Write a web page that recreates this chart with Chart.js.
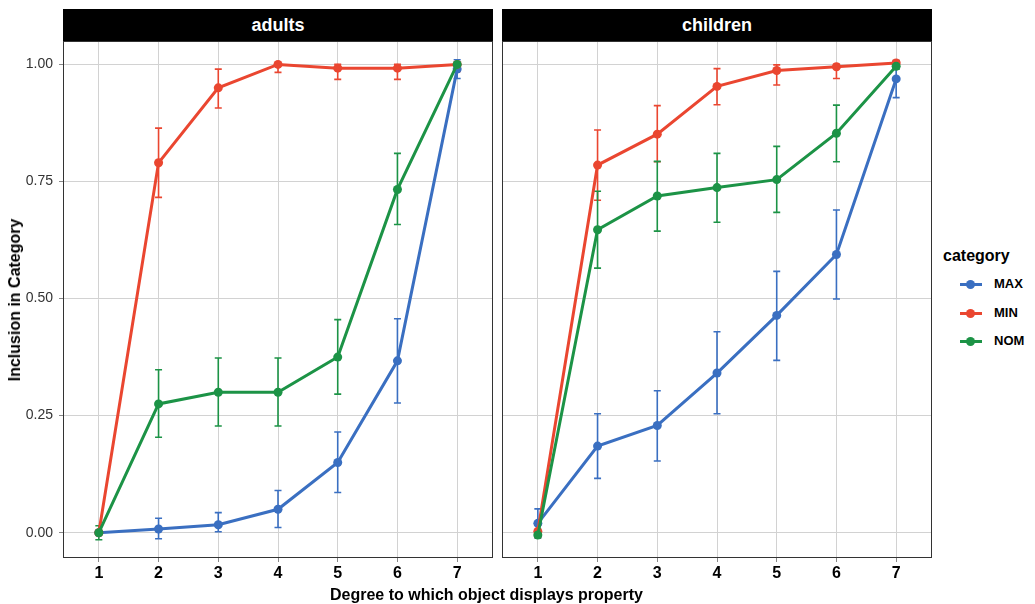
<!DOCTYPE html>
<html>
<head>
<meta charset="utf-8">
<script src="https://cdn.jsdelivr.net/npm/chart.js@4.4.0/dist/chart.umd.min.js"></script>
<style>
  body { margin: 0; background: #fff; font-family: "Liberation Sans", Arial, sans-serif; }
  #wrap { position: relative; width: 1035px; height: 604px; overflow: hidden; }
  canvas { position: absolute; }
  .strip { position: absolute; top: 9px; height: 32px; background: #000; color: #fff;
           font-weight: bold; font-size: 18px; text-align: center; line-height: 32px; }
  .title { position: absolute; font-weight: bold; font-size: 16px; color: #000; white-space: nowrap; }
  .leg { position: absolute; font-weight: bold; font-size: 13px; color: #000; }
  .sw { position: absolute; width: 22px; height: 3px; }
  .sw i { position: absolute; left: 6px; top: -3px; width: 9px; height: 9px; border-radius: 50%; }
</style>
</head>
<body>
<div id="wrap">
  <div class="strip" style="left:63px;width:430px;">adults</div>
  <div class="strip" style="left:502px;width:430px;">children</div>
  <canvas id="c1" style="left:0px;top:41px;" width="497" height="547"></canvas>
  <canvas id="c2" style="left:498px;top:41px;" width="438" height="547"></canvas>
  <div class="title" style="left:330px;top:586px;">Degree to which object displays property</div>
  <div class="title" style="left:15px;top:300px;transform:translate(-50%,-50%) rotate(-90deg);">Inclusion in Category</div>
  <div class="title" style="left:943px;top:247px;">category</div>
  <div id="legend"></div>
</div>
<script>
// categories and tick labels
const degrees = [1, 2, 3, 4, 5, 6, 7];
const yTicks = [0, 0.25, 0.5, 0.75, 1];
const categories = ['MAX', 'MIN', 'NOM'];
const colors = ['#3a6fc1', '#ea4630', '#1c9346'];

// adults
const adultsMax   = [0, 0.008, 0.017, 0.05, 0.15, 0.367, 0.99];
const adultsMaxLo = [0, -0.013, 0.002, 0.011, 0.086, 0.277, 0.97];
const adultsMaxHi = [0, 0.031, 0.043, 0.09, 0.215, 0.457, 1.01];
const adultsMin   = [0, 0.79, 0.95, 1.0, 0.992, 0.992, 1.0];
const adultsMinLo = [0, 0.716, 0.907, 0.983, 0.968, 0.968, 0.985];
const adultsMinHi = [0, 0.864, 0.99, 1.0, 1.0, 1.0, 1.0];
const adultsNom   = [0, 0.275, 0.30, 0.30, 0.375, 0.733, 1.0];
const adultsNomLo = [-0.015, 0.204, 0.228, 0.228, 0.296, 0.658, 1.0];
const adultsNomHi = [0.015, 0.348, 0.373, 0.373, 0.455, 0.81, 1.0];

// children
const childMax   = [0.02, 0.185, 0.229, 0.341, 0.464, 0.594, 0.969];
const childMaxLo = [-0.011, 0.116, 0.153, 0.254, 0.368, 0.499, 0.929];
const childMaxHi = [0.051, 0.254, 0.303, 0.429, 0.558, 0.689, 1.008];
const childMin   = [0.003, 0.785, 0.851, 0.953, 0.987, 0.995, 1.003];
const childMinLo = [-0.01, 0.71, 0.792, 0.914, 0.956, 0.97, 0.998];
const childMinHi = [0.016, 0.86, 0.912, 0.991, 0.999, 1.0, 1.008];
const childNom   = [-0.005, 0.647, 0.719, 0.737, 0.754, 0.853, 0.996];
const childNomLo = [-0.005, 0.565, 0.644, 0.663, 0.684, 0.792, 0.99];
const childNomHi = [-0.005, 0.729, 0.793, 0.81, 0.825, 0.913, 1.002];

// legend
const legendEl = document.getElementById('legend');
categories.forEach((c, i) => {
  const y = 284 + i * 28.5;
  legendEl.innerHTML +=
    '<div class="sw" style="left:960px;top:' + (y - 1) + 'px;background:' + colors[i] + '"><i style="background:' + colors[i] + '"></i></div>' +
    '<div class="leg" style="left:994px;top:' + (y - 8) + 'px;">' + c + '</div>';
});

// error bars + panel border
const errorBars = {
  id: 'errorBars',
  beforeDatasetsDraw(chart) {
    const ctx = chart.ctx, xs = chart.scales.x, ys = chart.scales.y;
    chart.data.datasets.forEach(ds => {
      ctx.save();
      ctx.strokeStyle = ds.borderColor;
      ctx.lineWidth = 1.6;
      ds.lo.forEach((lo, i) => {
        const hi = ds.hi[i];
        if (hi - lo < 0.001) return;
        const px = xs.getPixelForValue(degrees[i]);
        const y1 = ys.getPixelForValue(lo), y2 = ys.getPixelForValue(hi);
        ctx.beginPath();
        ctx.moveTo(px, y1); ctx.lineTo(px, y2);
        ctx.moveTo(px - 3.5, y1); ctx.lineTo(px + 3.5, y1);
        ctx.moveTo(px - 3.5, y2); ctx.lineTo(px + 3.5, y2);
        ctx.stroke();
      });
      ctx.restore();
    });
  },
  afterDraw(chart) {
    const a = chart.chartArea, ctx = chart.ctx;
    ctx.save();
    ctx.strokeStyle = '#333';
    ctx.lineWidth = 1;
    ctx.strokeRect(a.left + 0.5, a.top + 0.5, a.right - a.left - 1, a.bottom - a.top - 1);
    ctx.restore();
  }
};

function makeSet(label, vals, lo, hi, color, order) {
  return {
    label: label,
    data: degrees.map((d, i) => ({ x: d, y: vals[i] })),
    lo: lo, hi: hi,
    borderColor: color, backgroundColor: color,
    borderWidth: 3, pointRadius: 4.5, pointHoverRadius: 4.5,
    pointBorderWidth: 0, tension: 0, order: order
  };
}

function makeChart(id, series, showY, yWidth) {
  return new Chart(document.getElementById(id), {
    type: 'line',
    data: {
      datasets: [
        makeSet('MAX', series[0][0], series[0][1], series[0][2], colors[0], 2),
        makeSet('MIN', series[1][0], series[1][1], series[1][2], colors[1], 1),
        makeSet('NOM', series[2][0], series[2][1], series[2][2], colors[2], 0)
      ]
    },
    options: {
      responsive: false,
      animation: false,
      layout: { autoPadding: false, padding: { top: 0, right: 4, bottom: 0, left: 0 } },
      plugins: { legend: { display: false }, tooltip: { enabled: false } },
      scales: {
        x: {
          type: 'linear', min: 0.4, max: 7.6,
          afterBuildTicks: s => { s.ticks = degrees.map(v => ({ value: v })); },
          afterFit: s => { s.height = 30; s.paddingLeft = 0; s.paddingRight = 0; },
          grid: { color: '#d2d2d2', lineWidth: 1, tickColor: '#888', tickLength: 4 },
          border: { display: false },
          ticks: { color: '#000', padding: 2, font: { family: 'Liberation Sans', size: 16, weight: 'bold' }, maxRotation: 0 }
        },
        y: {
          type: 'linear', min: -0.054, max: 1.05,
          afterBuildTicks: s => { s.ticks = yTicks.map(v => ({ value: v })); },
          afterFit: s => { s.width = yWidth; s.paddingTop = 0; s.paddingBottom = 0; },
          grid: { color: '#d2d2d2', lineWidth: 1, tickColor: '#888', tickLength: 4, drawTicks: showY },
          border: { display: false },
          ticks: {
            display: showY, color: '#333', padding: 6,
            font: { family: 'Liberation Sans', size: 14 },
            callback: v => v.toFixed(2)
          }
        }
      }
    },
    plugins: [errorBars]
  });
}

makeChart('c1', [[adultsMax, adultsMaxLo, adultsMaxHi], [adultsMin, adultsMinLo, adultsMinHi], [adultsNom, adultsNomLo, adultsNomHi]], true, 63);
makeChart('c2', [[childMax, childMaxLo, childMaxHi], [childMin, childMinLo, childMinHi], [childNom, childNomLo, childNomHi]], false, 4);
</script>
</body>
</html>
